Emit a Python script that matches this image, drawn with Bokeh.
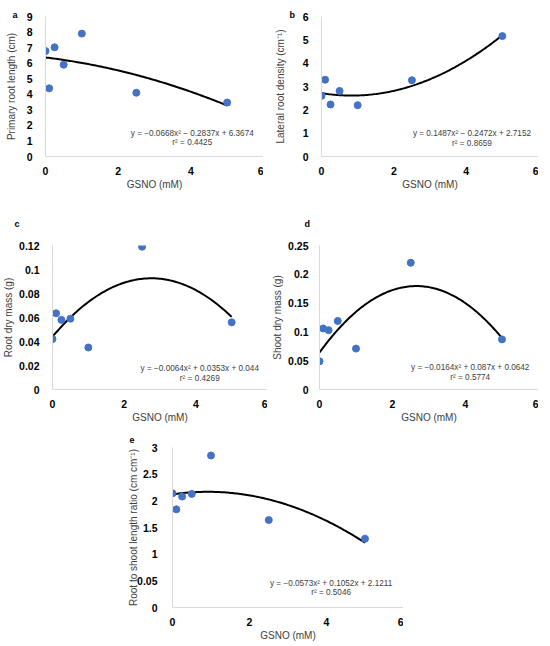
import numpy as np
from bokeh.plotting import figure
from bokeh.layouts import column, row
from bokeh.models import Range1d, FixedTicker, Label, Spacer, Title
from bokeh.embed import file_html
from bokeh.resources import INLINE

FONT = "Liberation Sans"

# ---- data ----
gsno = [0, 0.1, 0.25, 0.5, 1, 2.5, 5]

primary_root = [6.78, 4.38, 7.02, 5.9, 7.9, 4.1, 3.47]
primary_coef = [-0.0668, -0.2837, 6.3674]
primary_eq = ["y = \u22120.0668x\u00b2 \u2212 0.2837x + 6.3674", "r\u00b2 = 0.4425"]

lateral_root = [2.6, 3.29, 2.23, 2.81, 2.2, 3.27, 5.16]
lateral_coef = [0.1487, -0.2472, 2.7152]
lateral_eq = ["y = 0.1487x\u00b2 \u2212 0.2472x + 2.7152", "r\u00b2 = 0.8659"]

root_mass = [0.042, 0.0635, 0.058, 0.059, 0.035, 0.119, 0.056]
root_coef = [-0.0064, 0.0353, 0.044]
root_eq = ["y = \u22120.0064x\u00b2 + 0.0353x + 0.044", "r\u00b2 = 0.4269"]

shoot_mass = [0.049, 0.106, 0.103, 0.119, 0.071, 0.22, 0.087]
shoot_coef = [-0.0164, 0.087, 0.0642]
shoot_eq = ["y = \u22120.0164x\u00b2 + 0.087x + 0.0642", "r\u00b2 = 0.5774"]

ratio = [2.14, 1.84, 2.08, 2.13, 2.85, 1.64, 1.29]
ratio_coef = [-0.0573, 0.1052, 2.1211]
ratio_eq = ["y = \u22120.0573x\u00b2 + 0.1052x + 2.1211", "r\u00b2 = 0.5046"]

x_ticks = [0, 2, 4, 6]
x_labels = ["0", "2", "4", "6"]
a_ticks = [0, 1, 2, 3, 4, 5, 6, 7, 8, 9]
a_labels = ["0", "1", "2", "3", "4", "5", "6", "7", "8", "9"]
b_ticks = [0, 1, 2, 3, 4, 5, 6]
b_labels = ["0", "1", "2", "3", "4", "5", "6"]
c_ticks = [0, 0.02, 0.04, 0.06, 0.08, 0.1, 0.12]
c_labels = ["0", "0.02", "0.04", "0.06", "0.08", "0.1", "0.12"]
d_ticks = [0, 0.05, 0.1, 0.15, 0.2, 0.25]
d_labels = ["0", "0.05", "0.1", "0.15", "0.2", "0.25"]
e_ticks = [0, 0.5, 1, 1.5, 2, 2.5, 3]
e_labels = ["0", "0.05", "1", "1.5", "2", "2.5", "3"]

fit_x_max = 5


def panel(width, height, bt, bb, ys, coef, eq, yticks, ylabels, ylabel,
          letter, letter_offset, letter_standoff, eq_pos, tick_standoff,
          ylab_standoff):
    p = figure(width=width, height=height, output_backend="svg",
               toolbar_location=None,
               x_range=Range1d(0, 6), y_range=Range1d(0, yticks[-1]),
               min_border_left=0, min_border_right=0,
               min_border_top=bt, min_border_bottom=bb)
    p.outline_line_color = None
    p.grid.visible = False
    for ax, ticks, labels in ((p.xaxis[0], x_ticks, x_labels),
                              (p.yaxis[0], yticks, ylabels)):
        ax.ticker = FixedTicker(ticks=ticks)
        ax.major_label_overrides = {t: l for t, l in zip(ticks, labels)}
        ax.major_tick_line_color = None
        ax.minor_tick_line_color = None
        ax.axis_line_color = "#d9d9d9"
        ax.axis_line_width = 1
        ax.major_label_text_font = FONT
        ax.major_label_text_font_style = "bold"
        ax.major_label_text_font_size = "10.5px"
        ax.major_label_text_color = "#000000"
        ax.axis_label_text_font = FONT
        ax.axis_label_text_font_style = "normal"
        ax.axis_label_text_font_size = "10px"
        ax.axis_label_text_color = "#404040"
    p.xaxis.axis_label = "GSNO (mM)"
    p.xaxis.major_label_standoff = 4
    p.xaxis.axis_label_standoff = 1
    p.yaxis.axis_label = ylabel
    p.yaxis.major_label_standoff = tick_standoff
    p.yaxis.axis_label_standoff = ylab_standoff

    xc = np.linspace(0, fit_x_max, 120)
    yc = np.polyval(coef, xc)
    p.line(xc, yc, line_color="#000000", line_width=2)
    p.scatter(gsno, ys, size=7, fill_color="#4472c4", line_color="#4472c4")

    p.add_layout(Title(text=letter, align="left", offset=letter_offset,
                       standoff=letter_standoff, vertical_align="bottom",
                       text_font=FONT, text_font_style="bold",
                       text_font_size="9px", text_color="#000000"), "above")
    for i, t in enumerate(eq):
        p.add_layout(Label(x=eq_pos[0], y=eq_pos[1 + i], x_units="data",
                           y_units="screen", text=t, text_font=FONT,
                           text_font_size="8.2px", text_baseline="middle",
                           text_align="center", text_color="#404040"))
    return p


pa = panel(261, 196, 16, 40, primary_root, primary_coef, primary_eq,
           a_ticks, a_labels, "Primary root length (cm)", "a", -33, -6,
           (4.04, 23, 14), 7, 7)
pb = panel(267, 196, 16, 40, lateral_root, lateral_coef, lateral_eq,
           b_ticks, b_labels, "Lateral root density (cm\u207b\u00b9)", "b",
           -32, -6, (4.16, 23, 13), 7, 14)
pc = panel(267, 229, 49, 36, root_mass, root_coef, root_eq,
           c_ticks, c_labels, "Root dry mass (g)", "c", -38, 34,
           (4.11, 21, 11), 7, 2)
pd = panel(269, 229, 49, 36, shoot_mass, shoot_coef, shoot_eq,
           d_ticks, d_labels, "Shoot dry mass (g)", "d", -15, 34,
           (4.13, 22, 12), 5, 2)
pe = panel(278, 218, 22, 33, ratio, ratio_coef, ratio_eq,
           e_ticks, e_labels, "Root to shoot length ratio (cm cm\u207b\u00b9)",
           "e", -43, 10, (4.12, 24, 15), 9, -5)

layout = column(
    row(Spacer(width=2, height=196), pa, Spacer(width=8, height=196), pb),
    row(pc, Spacer(width=2, height=229), pd),
    row(Spacer(width=125, height=218), pe),
)

open("out.html", "w").write(file_html(layout, INLINE))
